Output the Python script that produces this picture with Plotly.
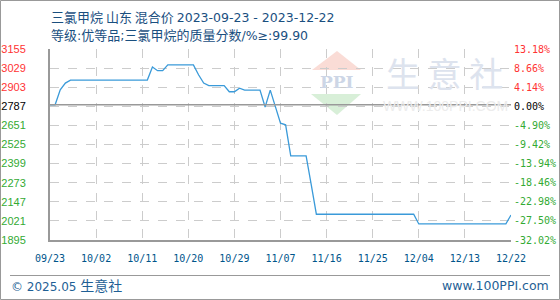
import pandas as pd
import plotly.graph_objects as go

# ---- data ----
start_date = "2023-09-23"
prices = [2787, 2787, 2886, 2930, 2950, 2950, 2950, 2950, 2950, 2950,
          2950, 2950, 2950, 2950, 2950, 2950, 2950, 2950, 2950, 2950,
          3036, 3012, 3012, 3050, 3050, 3050, 3050, 3050, 3050, 2985,
          2930, 2913, 2913, 2913, 2913, 2873, 2873, 2897, 2884, 2884,
          2884, 2884, 2772, 2884, 2775, 2666, 2655, 2450, 2450, 2450,
          2450, 2260, 2065, 2065, 2065, 2065, 2065, 2065, 2065, 2065,
          2065, 2065, 2065, 2065, 2065, 2065, 2065, 2065, 2065, 2065,
          2065, 2065, 2001, 2001, 2001, 2001, 2001, 2001, 2001, 2001,
          2001, 2001, 2001, 2001, 2001, 2001, 2001, 2001, 2001, 2001,
          2060]
dates = pd.date_range(start_date, periods=len(prices), freq="D")

base_price = 2787
y_tick_vals = [3155, 3029, 2903, 2777, 2651, 2525, 2399, 2273, 2147, 2021, 1895]
y_tick_left = ["3155", "3029", "2903", "2787", "2651", "2525", "2399", "2273", "2147", "2021", "1895"]
y_tick_right = ["13.18%", "8.66%", "4.14%", "0.00%", "-4.90%", "-9.42%", "-13.94%",
                "-18.46%", "-22.98%", "-27.50%", "-32.02%"]
y_tick_sign = [1, 1, 1, 0, -1, -1, -1, -1, -1, -1, -1]
x_tick_dates = ["2023-09-23", "2023-10-02", "2023-10-11", "2023-10-20", "2023-10-29",
                "2023-11-07", "2023-11-16", "2023-11-25", "2023-12-04", "2023-12-13", "2023-12-22"]
x_tick_text = ["09/23", "10/02", "10/11", "10/20", "10/29", "11/07", "11/16",
               "11/25", "12/04", "12/13", "12/22"]

# text segments: (text, is_latin)
title_line1 = [("三氯甲烷 山东 混合价 ", False), ("2023-09-23 - 2023-12-22", True)]
title_line2 = [("等级", False), (":", True), ("优等品", False), (";", True),
               ("三氯甲烷的质量分数", False), ("/%≥:99.90", True)]
footer_left = [("© 2025.05 ", True), ("生意社", False)]
footer_right = "www.100PPI.com"

# ---- style ----
W, H = 560, 300
ML, MR, MT, MB = 50, 49, 49, 60
PW, PH = W - ML - MR, H - MT - MB
sign_color = {1: "#ff3333", 0: "#000000", -1: "#33aa33"}


def px(x):
    return (x - ML) / PW


def py(y):
    return (H - MB - y) / PH


def mixed(segs, latin_size):
    out = ""
    for t, latin in segs:
        if latin:
            out += f"<span style='font-family:DejaVu Sans;font-size:{latin_size}px'>{t}</span>"
        else:
            out += t
    return out


fig = go.Figure()
fig.add_trace(go.Scatter(x=dates, y=prices, mode="lines",
                         line=dict(color="#3a9ad9", width=1.3),
                         hoverinfo="skip", showlegend=False))
# invisible trace for right axis
fig.add_trace(go.Scatter(x=[dates[0]], y=[base_price], yaxis="y2", mode="lines",
                         line=dict(width=0), hoverinfo="skip", showlegend=False))

left_text = [f"<span style='color:{sign_color[s]}'>{t}</span>" for t, s in zip(y_tick_left, y_tick_sign)]
right_text = [f"<span style='color:{sign_color[s]}'>{t}</span>" for t, s in zip(y_tick_right, y_tick_sign)]

yrange = [min(y_tick_vals), max(y_tick_vals)]
fig.update_layout(
    width=W, height=H,
    margin=dict(l=ML, r=MR, t=MT, b=MB, autoexpand=False),
    paper_bgcolor="white", plot_bgcolor="white",
    xaxis=dict(type="date", range=[x_tick_dates[0], x_tick_dates[-1]],
               tickvals=x_tick_dates, ticktext=x_tick_text, automargin=False,
               showgrid=True, gridcolor="#cccccc", griddash="dash", gridwidth=1,
               showline=True, linecolor="#999999", linewidth=2,
               ticks="", ticklabelstandoff=8,
               tickfont=dict(family="DejaVu Sans Mono", size=10, color="#00558b"),
               zeroline=False, fixedrange=True),
    yaxis=dict(range=yrange, tickvals=y_tick_vals, ticktext=left_text, automargin=False,
               showgrid=True, gridcolor="#cccccc", griddash="dash", gridwidth=1,
               showline=True, linecolor="#999999", linewidth=2,
               ticks="", ticklabelstandoff=20,
               tickfont=dict(family="Liberation Sans", size=11),
               zeroline=False, fixedrange=True),
    yaxis2=dict(range=yrange, tickvals=y_tick_vals, ticktext=right_text, automargin=False,
                overlaying="y", side="right", showgrid=False, showline=False,
                ticks="", ticklabelstandoff=2,
                tickfont=dict(family="DejaVu Sans Mono", size=10),
                zeroline=False, fixedrange=True),
)

shapes = []
# watermark logo
shapes.append(dict(type="path", xref="paper", yref="paper", layer="below",
                   path=f"M {px(312)} {py(70)} L {px(337)} {py(51)} L {px(361)} {py(70)} Z",
                   fillcolor="#fadcd6", line=dict(width=0)))
shapes.append(dict(type="path", xref="paper", yref="paper", layer="below",
                   path=f"M {px(311)} {py(94)} L {px(361)} {py(94)} L {px(337)} {py(115)} Z",
                   fillcolor="#d8efd8", line=dict(width=0)))
# base line
shapes.append(dict(type="line", xref="paper", yref="y", x0=0, x1=1,
                   y0=base_price, y1=base_price, line=dict(color="#999999", width=1.5)))
# footer separator
shapes.append(dict(type="line", xref="paper", yref="paper", x0=px(10), x1=px(550),
                   y0=py(275.5), y1=py(275.5), line=dict(color="#999999", width=1)))
# outer frame
shapes.append(dict(type="rect", xref="paper", yref="paper", x0=px(0.5), x1=px(559.5),
                   y0=py(0.5), y1=py(299.5), line=dict(color="#999999", width=1)))
fig.update_layout(shapes=shapes)


def note(text, x, y, xanchor, size, color, family):
    return dict(text=text, x=px(x), y=py(y), xref="paper", yref="paper",
                xanchor=xanchor, yanchor="middle", showarrow=False,
                font=dict(family=family, size=size, color=color))


ann = [
    note("<b>PPI</b>", 337, 82, "center", 17, "#cdd6e6", "DejaVu Serif"),
    note("生 意 社", 444, 72, "center", 34, "#dde3ee", "Noto Sans CJK SC"),
    note("WWW.100PPI.COM", 445, 106, "center", 14, "#ececec", "Liberation Sans"),
    note(mixed(title_line1, 12.5), 49, 16, "left", 13, "#1a4f7f", "Noto Sans CJK SC"),
    note(mixed(title_line2, 12.5), 49, 34, "left", 13, "#1a4f7f", "Noto Sans CJK SC"),
    note(mixed(footer_left, 12), 9, 285, "left", 14, "#1f5f95", "Noto Sans CJK SC"),
    note(footer_right, 551, 285, "right", 12.5, "#1f5f95", "DejaVu Sans"),
]
fig.update_layout(annotations=ann)

fig.write_html("out.html")
